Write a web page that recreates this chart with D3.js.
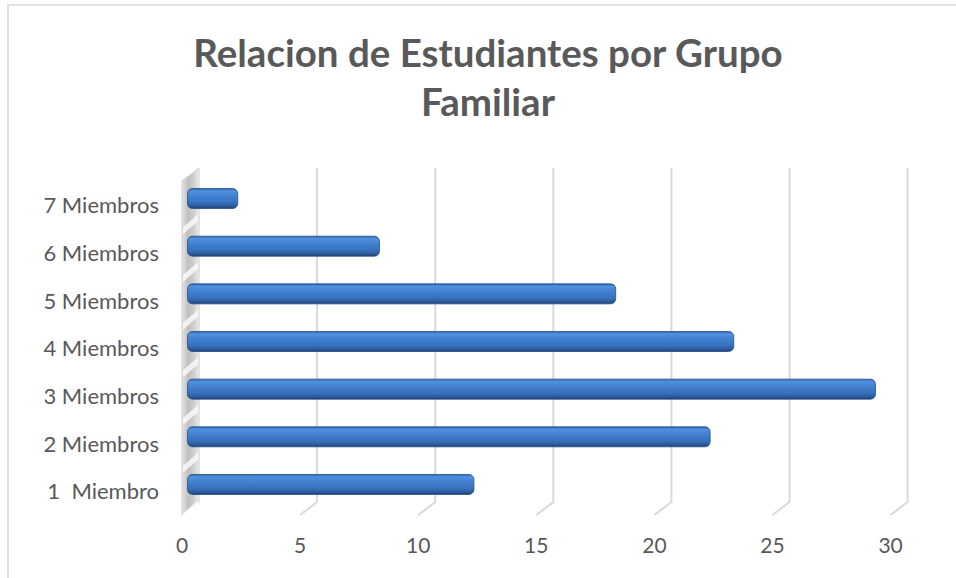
<!DOCTYPE html>
<html>
<head>
<meta charset="utf-8">
<script src="https://cdn.jsdelivr.net/npm/d3@7"></script>
<style>
  body { margin: 0; background: #fff; }
  text { font-family: Lato, "Open Sans", sans-serif; }
</style>
</head>
<body>
<div id="graph"></div>
<script>
const categories = ["1  Miembro", "2 Miembros", "3 Miembros", "4 Miembros", "5 Miembros", "6 Miembros", "7 Miembros"];
const values = [12, 22, 29, 23, 18, 8, 2];
const xTicks = [0, 5, 10, 15, 20, 25, 30];
const titleLines = ["Relacion de Estudiantes por Grupo", "Familiar"];

const w = 956;
const h = 578;
const depthX = 17;   // front plane sits left of the back wall
const depthY = 13;   // and a bit lower
const gridTop = 168;
const gridBottom = 502;

const dataset = categories.map((c, i) => ({ cat: c, val: values[i] }));

const svg = d3.select("#graph")
              .append("svg")
              .attr("width", w)
              .attr("height", h);

const defs = svg.append("defs");

const barGrad = defs.append("linearGradient")
                    .attr("id", "barGrad")
                    .attr("x1", 0).attr("y1", 0).attr("x2", 0).attr("y2", 1);
[[0, "#2f63a8"], [0.12, "#4f91e0"], [0.35, "#4382d2"], [0.7, "#3871bd"], [0.88, "#2c5b9c"], [1, "#1d3f70"]]
  .forEach(s => barGrad.append("stop").attr("offset", s[0]).attr("stop-color", s[1]));

const wallGrad = defs.append("linearGradient")
                     .attr("id", "wallGrad")
                     .attr("x1", 0).attr("y1", 0).attr("x2", 1).attr("y2", 0);
[[0, "#e4e4e4"], [0.35, "#c0c0c0"], [0.7, "#cfcfcf"], [1, "#ededed"]]
  .forEach(s => wallGrad.append("stop").attr("offset", s[0]).attr("stop-color", s[1]));

// chart area border (only top and left visible in the crop)
svg.append("path")
   .attr("d", "M8,578 L8,5 L956,5")
   .attr("fill", "none")
   .attr("stroke", "#d9d9d9")
   .attr("stroke-width", 1.5);

// title
svg.selectAll(".title")
   .data(titleLines)
   .enter()
   .append("text")
   .attr("class", "title")
   .attr("x", 488)
   .attr("y", (d, i) => 67 + i * 49)
   .attr("text-anchor", "middle")
   .style("font-size", "38.5px")
   .style("font-weight", "bold")
   .style("fill", "#595959")
   .text(d => d);

const xScale = d3.scaleLinear()
                 .domain([0, 30])
                 .range([199, 907.6]);

const yScale = d3.scaleBand()
                 .domain(categories.slice().reverse())
                 .range([174.7, 508.3])
                 .paddingInner(0.58)
                 .paddingOuter(0.29);

// gridlines on the back wall with their floor stubs
svg.selectAll(".grid")
   .data(xTicks.filter(t => t > 0))
   .enter()
   .append("path")
   .attr("class", "grid")
   .attr("d", d => {
     const x = xScale(d);
     return `M${x},${gridTop} L${x},${gridBottom} L${x - depthX},${gridBottom + depthY}`;
   })
   .attr("fill", "none")
   .attr("stroke", "#d9d9d9")
   .attr("stroke-width", 2);

// side wall at zero
const x0 = xScale(0);
svg.append("polygon")
   .attr("points", `${x0},${gridTop} ${x0},${gridBottom} ${x0 - depthX},${gridBottom + depthY} ${x0 - depthX},${gridTop + depthY}`)
   .attr("fill", "url(#wallGrad)")
   .attr("stroke", "#d0d0d0")
   .attr("stroke-width", 1);

// light streaks on the wall between the bars
svg.selectAll(".streak")
   .data(categories)
   .enter()
   .append("polygon")
   .attr("class", "streak")
   .attr("points", d => {
     const y = yScale(d) + yScale.bandwidth() + (yScale.step() - yScale.bandwidth()) / 2;
     return `${x0 - 1},${y - 8} ${x0 - 1},${y - 1} ${x0 - depthX + 1},${y + 12} ${x0 - depthX + 1},${y + 5}`;
   })
   .attr("fill", "#ffffff")
   .attr("opacity", 0.75);

// bars, drawn at mid depth
svg.selectAll(".bar")
   .data(dataset)
   .enter()
   .append("rect")
   .attr("class", "bar")
   .attr("x", x0 - depthX / 2 - 3)
   .attr("y", d => yScale(d.cat))
   .attr("width", d => xScale(d.val) - x0 + 3)
   .attr("height", yScale.bandwidth())
   .attr("rx", 5)
   .attr("fill", "url(#barGrad)")
   .attr("stroke", "#274f86")
   .attr("stroke-width", 0.8);

// category labels (keep the double space in "1  Miembro")
svg.selectAll(".cat")
   .data(categories)
   .enter()
   .append("text")
   .attr("class", "cat")
   .attr("x", 159)
   .attr("y", d => yScale(d) + yScale.bandwidth() / 2 + 7)
   .attr("dy", "0.35em")
   .attr("text-anchor", "end")
   .style("white-space", "pre")
   .style("font-size", "22px")
   .style("fill", "#595959")
   .text(d => d);

// value axis labels on the front edge
svg.selectAll(".tick-label")
   .data(xTicks)
   .enter()
   .append("text")
   .attr("class", "tick-label")
   .attr("x", d => xScale(d) - depthX)
   .attr("y", 553)
   .attr("text-anchor", "middle")
   .style("font-size", "21px")
   .style("fill", "#595959")
   .text(d => d);
</script>
</body>
</html>
